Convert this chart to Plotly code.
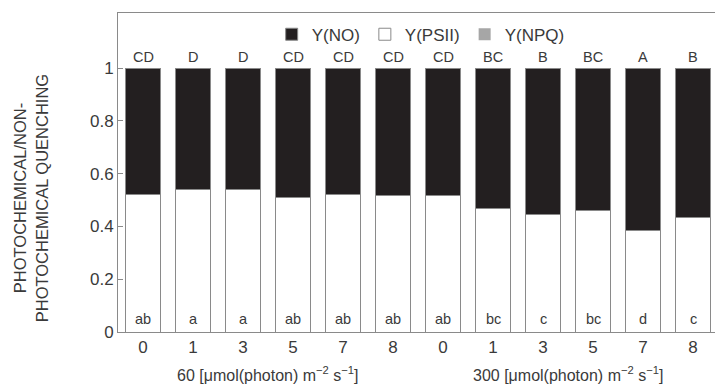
import plotly.graph_objects as go

# ---- data ----
x_labels = ["0", "1", "3", "5", "7", "8", "0", "1", "3", "5", "7", "8"]
y_psii = [0.522, 0.541, 0.541, 0.510, 0.523, 0.516, 0.516, 0.468, 0.446, 0.462, 0.386, 0.433]
y_npq = [0, 0, 0, 0, 0, 0, 0, 0, 0, 0, 0, 0]
y_no = [round(1 - p, 3) for p in y_psii]
upper_letters = ["CD", "D", "D", "CD", "CD", "CD", "CD", "BC", "B", "BC", "A", "B"]
lower_letters = ["ab", "a", "a", "ab", "ab", "ab", "ab", "bc", "c", "bc", "d", "c"]
group_labels = ["60 [μmol(photon) m<sup>−2</sup> s<sup>−1</sup>]",
                "300 [μmol(photon) m<sup>−2</sup> s<sup>−1</sup>]"]
group_centers = [2.5, 8.5]
y_title = "PHOTOCHEMICAL/NON-<br>PHOTOCHEMICAL QUENCHING"

xs = list(range(len(x_labels)))
FONT = "Liberation Sans, Arial, sans-serif"
TXT = "#3a3a3a"
EDGE = "#8a8a8a"

fig = go.Figure()
fig.add_trace(go.Bar(x=xs, y=y_psii, name="Y(PSII)", legendrank=2,
                     marker=dict(color="white", line=dict(color=EDGE, width=1)), width=0.7))
fig.add_trace(go.Bar(x=xs, y=y_npq, name="Y(NPQ)", legendrank=3,
                     marker=dict(color="#a6a6a6", line=dict(width=0)), width=0.7))
fig.add_trace(go.Bar(x=xs, y=y_no, name="Y(NO)", legendrank=1,
                     marker=dict(color="#231f20", line=dict(color=EDGE, width=1)), width=0.7))

annotations = []
for i, t in enumerate(upper_letters):
    annotations.append(dict(x=xs[i], y=1.0, xref="x", yref="y", text=t, showarrow=False,
                            yanchor="bottom", yshift=1, font=dict(size=14.5, color=TXT, family=FONT)))
for i, t in enumerate(lower_letters):
    annotations.append(dict(x=xs[i], y=0, xref="x", yref="y", text=t, showarrow=False,
                            yanchor="bottom", yshift=3, font=dict(size=14.5, color=TXT, family=FONT)))
for c, t in zip(group_centers, group_labels):
    annotations.append(dict(x=c, y=-0.133, xref="x", yref="paper", text=t, showarrow=False,
                            yanchor="middle", font=dict(size=16, color=TXT, family=FONT)))
annotations.append(dict(x=-0.147, y=0.42, xref="paper", yref="paper", text=y_title,
                        showarrow=False, textangle=-90, xanchor="center", yanchor="middle",
                        font=dict(size=16.5, color=TXT, family=FONT)))

fig.update_layout(
    width=715, height=385,
    margin=dict(l=118, r=0, t=13, b=53),
    paper_bgcolor="white", plot_bgcolor="white",
    barmode="stack",
    font=dict(family=FONT, color=TXT),
    showlegend=True,
    legend=dict(orientation="h", x=0.507, y=0.932, xanchor="center", yanchor="middle",
                bgcolor="rgba(0,0,0,0)", font=dict(size=17, color=TXT, family=FONT),
                itemwidth=30, traceorder="normal"),
    annotations=annotations,
)
fig.update_xaxes(range=[-0.5, 11.44], tickvals=xs, ticktext=x_labels, showgrid=False,
                 showline=True, linecolor=EDGE, linewidth=1, mirror=True, ticks="",
                 tickfont=dict(size=17, color=TXT, family=FONT), zeroline=False)
fig.update_yaxes(range=[0, 1.209], tickvals=[0, 0.2, 0.4, 0.6, 0.8, 1.0],
                 ticktext=["0", "0.2", "0.4", "0.6", "0.8", "1"], showgrid=False,
                 showline=True, linecolor=EDGE, linewidth=1, ticks="inside", ticklen=5,
                 tickcolor=EDGE, tickfont=dict(size=17, color=TXT, family=FONT), zeroline=False)

fig.write_html("out.html")
